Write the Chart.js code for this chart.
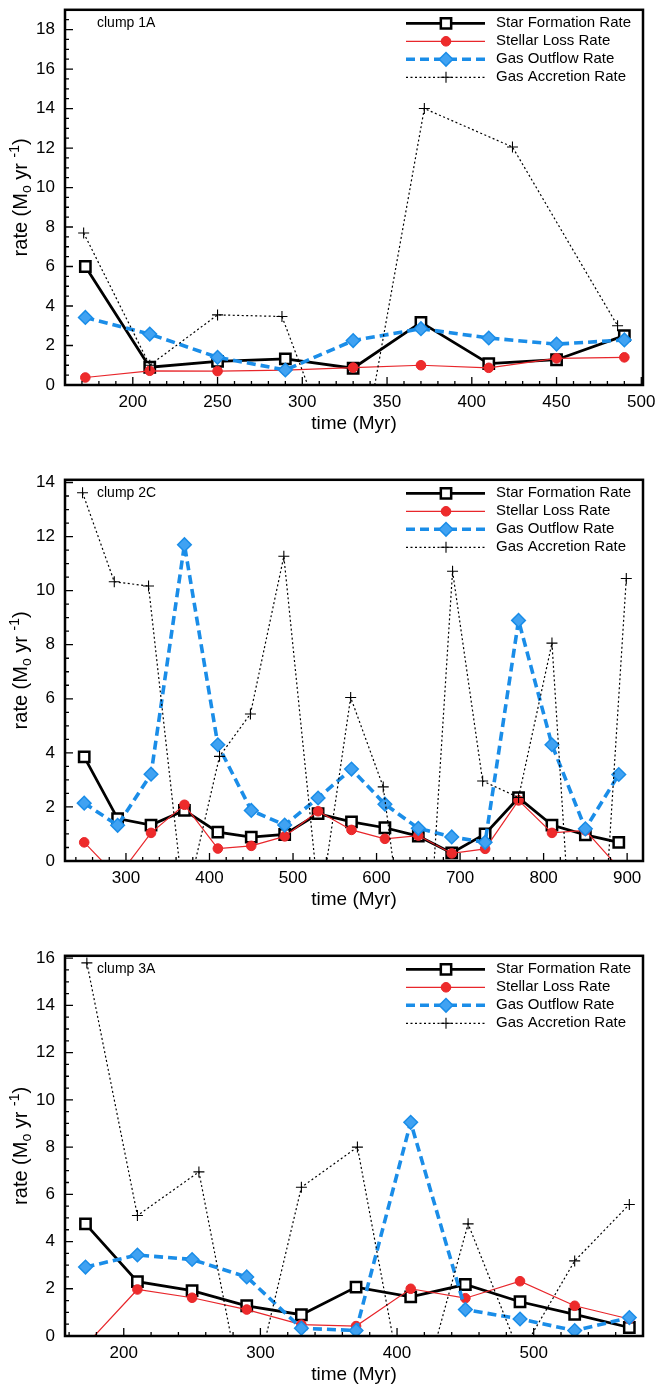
<!DOCTYPE html>
<html>
<head>
<meta charset="utf-8">
<script src="https://cdn.jsdelivr.net/npm/chart.js@4.4.1/dist/chart.umd.min.js"></script>
<style>
  html, body { margin: 0; padding: 0; background: #fff; }
  body { width: 655px; height: 1391px; position: relative; overflow: hidden; }
  canvas { position: absolute; left: 0; }
</style>
</head>
<body>
<canvas id="c1" width="655" height="437" style="top:0px;width:655px;height:437px"></canvas>
<canvas id="c2" width="655" height="443" style="top:470px;width:655px;height:443px"></canvas>
<canvas id="c3" width="655" height="442" style="top:946px;width:655px;height:442px"></canvas>
<script>
// ---------------- DATA ----------------
const seriesNames = ["Star Formation Rate", "Stellar Loss Rate", "Gas Outflow Rate", "Gas Accretion Rate"];
const clumpNames = ["clump 1A", "clump 2C", "clump 3A"];

// clump 1A
const clump1Time     = [172, 210, 250, 290, 330, 370, 410, 450, 490];
const clump1SFR      = [6.0, 0.9, 1.2, 1.32, 0.85, 3.17, 1.08, 1.28, 2.5];
const clump1Loss     = [0.38, 0.72, 0.7, 0.75, 0.88, 1.0, 0.87, 1.35, 1.4];
const clump1Outflow  = [3.42, 2.58, 1.4, 0.76, 2.25, 2.85, 2.38, 2.07, 2.28];
const clump1AccTime  = [171, 210, 250, 288, 330, 372, 424, 486];
const clump1Acc      = [7.7, 1.0, 3.55, 3.47, -6.1, 14.0, 12.05, 3.0];

// clump 2C
const clump2Time     = [250, 290, 330, 370, 410, 450, 490, 530, 570, 610, 650, 690, 730, 770, 810, 850, 890];
const clump2SFR      = [3.85, 1.57, 1.33, 1.87, 1.07, 0.88, 0.98, 1.75, 1.45, 1.23, 0.92, 0.3, 1.0, 2.34, 1.33, 0.97, 0.69];
const clump2Loss     = [0.69, -0.6, 1.04, 2.08, 0.46, 0.56, 0.91, 1.84, 1.15, 0.82, 0.94, 0.28, 0.45, 2.24, 1.04, 1.13, -0.25];
const clump2Outflow  = [2.14, 1.32, 3.21, 11.7, 4.3, 1.87, 1.33, 2.33, 3.4, 2.1, 1.21, 0.89, 0.69, 8.9, 4.3, 1.19, 3.2];
const clump2AccTime  = [248, 286, 327, 370, 412, 449, 489, 532, 569, 608, 653, 691, 727, 770, 810, 852, 899];
const clump2Acc      = [13.62, 10.33, 10.17, -1.75, 3.87, 5.44, 11.27, -1.8, 6.05, 2.74, -7.8, 10.72, 2.96, 2.35, 8.06, -12.4, 10.45];

// clump 3A
const clump3Time     = [172, 210, 250, 290, 330, 370, 410, 450, 490, 530, 570];
const clump3SFR      = [4.75, 2.3, 1.92, 1.28, 0.9, 2.07, 1.66, 2.18, 1.45, 0.92, 0.36];
const clump3Loss     = [-0.4, 1.97, 1.62, 1.12, 0.48, 0.42, 2.0, 1.6, 2.32, 1.28, 0.72];
const clump3Outflow  = [2.92, 3.43, 3.24, 2.5, 0.33, 0.23, 9.05, 1.12, 0.72, 0.23, 0.78];
const clump3AccTime  = [173, 210, 255, 290, 330, 371, 410, 452, 490, 530, 570];
const clump3Acc      = [15.8, 5.1, 6.95, -3.45, 6.3, 8.0, -4.1, 4.75, -0.8, 3.18, 5.57];

// tick labels
const xTicks1 = [200, 250, 300, 350, 400, 450, 500];
const xTicks2 = [300, 400, 500, 600, 700, 800, 900];
const xTicks3 = [200, 300, 400, 500];
const yTicks1 = [0, 2, 4, 6, 8, 10, 12, 14, 16, 18];
const yTicks2 = [0, 2, 4, 6, 8, 10, 12, 14];
const yTicks3 = [0, 2, 4, 6, 8, 10, 12, 14, 16];

// axis titles (y title pieces: normal, subscript, normal, superscript, normal)
const xTitle = "time (Myr)";
const yTitleParts = [["rate (M", 0], ["o", -1], [" yr ", 0], ["-1", 1], [")", 0]];

// axis ranges and minor tick steps
const xRanges = [[160, 501], [227, 919], [157, 580]];
const yRanges = [[0, 19], [0, 14.1], [0, 16.1]];
const xMinorSteps = [10, 20, 20];
const yMinorStep = 0.5;

// ---------------- STYLES ----------------
const FONT = '"Liberation Sans", Arial, Helvetica, sans-serif';
const styles = [
  { borderColor: '#000000', borderWidth: 2.8, pointStyle: 'rect', pointRadius: 7.3, pointBorderWidth: 2.5,
    pointBackgroundColor: '#ffffff', pointBorderColor: '#000000', order: 3 },
  { borderColor: '#e8262b', borderWidth: 1.2, pointStyle: 'circle', pointRadius: 4.8, pointBorderWidth: 1,
    pointBackgroundColor: '#ee2b2b', pointBorderColor: '#e8262b', order: 2 },
  { borderColor: '#1a8de8', borderWidth: 3.6, borderDash: [9, 5], pointStyle: 'rectRot', pointRadius: 6.8, pointBorderWidth: 1.5,
    pointBackgroundColor: '#40a2f2', pointBorderColor: '#1a8de8', order: 1 },
  { borderColor: '#000000', borderWidth: 1.2, borderDash: [2, 2.5], pointStyle: 'cross', pointRadius: 5.5, pointBorderWidth: 1.1,
    pointBackgroundColor: '#000000', pointBorderColor: '#000000', order: 0 }
];

function mk(i, xs, ys) {
  return Object.assign({
    label: seriesNames[i],
    data: xs.map((x, k) => ({ x: x, y: ys[k] })),
    tension: 0, fill: false, pointHoverRadius: 0
  }, styles[i]);
}

// ---------------- PLUGIN: frame, inward ticks, legend, labels ----------------
const decorPlugin = {
  id: 'decor',
  afterDatasetsDraw(chart, args, o) {
    const ctx = chart.ctx, a = chart.chartArea, xs = chart.scales.x, ys = chart.scales.y;
    const xMajor = xs.ticks.map(t => t.value);
    const yMajor = ys.ticks.map(t => t.value);
    const near = (arr, v) => arr.some(m => Math.abs(m - v) < 1e-6);
    ctx.save();
    ctx.strokeStyle = '#000';
    ctx.lineWidth = 1.3;
    ctx.setLineDash([]);
    ctx.beginPath();
    for (let k = Math.ceil(xs.min / o.xMinor); k * o.xMinor <= xs.max + 1e-9; k++) {
      const v = k * o.xMinor;
      const px = xs.getPixelForValue(v);
      const len = near(xMajor, v) ? 8 : 4;
      ctx.moveTo(px, a.bottom); ctx.lineTo(px, a.bottom - len);
    }
    for (let k = Math.ceil(ys.min / o.yMinor); k * o.yMinor <= ys.max + 1e-9; k++) {
      const v = k * o.yMinor;
      const py = ys.getPixelForValue(v);
      const len = near(yMajor, v) ? 8 : 4;
      ctx.moveTo(a.left, py); ctx.lineTo(a.left + len, py);
    }
    ctx.stroke();
    ctx.lineWidth = 2.5;
    ctx.strokeRect(a.left, a.top, a.right - a.left, a.bottom - a.top);

    // y-axis title with subscript / superscript
    ctx.save();
    ctx.translate(20, (a.top + a.bottom) / 2);
    ctx.rotate(-Math.PI / 2);
    ctx.fillStyle = '#000';
    ctx.textBaseline = 'alphabetic';
    ctx.textAlign = 'left';
    const big = '20px ' + FONT, small = '14px ' + FONT;
    let total = 0;
    yTitleParts.forEach(([t, s]) => { ctx.font = s ? small : big; total += ctx.measureText(t).width; });
    let cx = -total / 2;
    yTitleParts.forEach(([t, s]) => {
      ctx.font = s ? small : big;
      const dy = s === -1 ? 4 : (s === 1 ? -8 : 0);
      ctx.fillText(t, cx, 7 + dy);
      cx += ctx.measureText(t).width;
    });
    ctx.restore();

    // clump label
    ctx.fillStyle = '#000';
    ctx.font = '14px ' + FONT;
    ctx.textBaseline = 'middle';
    ctx.textAlign = 'left';
    ctx.fillText(o.label, 97, a.top + 13.5);

    // legend
    seriesNames.forEach((name, row) => {
      const ds = chart.data.datasets.find(d => d.label === name);
      const yy = a.top + 13.5 + row * 18;
      ctx.save();
      ctx.strokeStyle = ds.borderColor;
      ctx.lineWidth = ds.borderWidth;
      ctx.setLineDash(ds.borderDash || []);
      ctx.beginPath(); ctx.moveTo(406, yy); ctx.lineTo(485, yy); ctx.stroke();
      ctx.setLineDash([]);
      ctx.fillStyle = ds.pointBackgroundColor;
      ctx.strokeStyle = ds.pointBorderColor;
      ctx.lineWidth = ds.pointBorderWidth;
      Chart.helpers.drawPoint(ctx, { pointStyle: ds.pointStyle, radius: ds.pointRadius, borderWidth: ds.pointBorderWidth, rotation: 0 }, 446, yy);
      ctx.fillStyle = '#000';
      ctx.font = '15px ' + FONT;
      ctx.textBaseline = 'middle';
      ctx.textAlign = 'left';
      ctx.fillText(ds.label, 496, yy);
      ctx.restore();
    });
    ctx.restore();
  }
};

function makeChart(id, idx, datasets, padTop, xTicks, yTicks) {
  const c = document.getElementById(id);
  return new Chart(c.getContext('2d'), {
    type: 'line',
    data: { datasets: datasets },
    plugins: [decorPlugin],
    options: {
      responsive: false,
      devicePixelRatio: 1,
      animation: false,
      events: [],
      layout: { padding: { top: padTop, right: 12, left: 0, bottom: 0 } },
      plugins: {
        legend: { display: false },
        tooltip: { enabled: false },
        decor: { label: clumpNames[idx], xMinor: xMinorSteps[idx], yMinor: yMinorStep }
      },
      scales: {
        x: {
          type: 'linear', min: xRanges[idx][0], max: xRanges[idx][1],
          grid: { display: false, drawTicks: false },
          border: { display: false },
          ticks: { padding: 7, maxRotation: 0, autoSkip: false,
                   color: '#000', font: { size: 17, family: FONT } },
          afterBuildTicks(s) { s.ticks = xTicks.map(v => ({ value: v })); },
          title: { display: true, text: xTitle, color: '#000', font: { size: 19, family: FONT }, padding: { top: 0, bottom: 2 } },
          afterFit(s) { s.height = 52; s.paddingLeft = 0; s.paddingRight = 0; }
        },
        y: {
          type: 'linear', min: yRanges[idx][0], max: yRanges[idx][1],
          grid: { display: false, drawTicks: false },
          border: { display: false },
          ticks: { padding: 10, autoSkip: false,
                   color: '#000', font: { size: 17, family: FONT } },
          afterBuildTicks(s) { s.ticks = yTicks.map(v => ({ value: v })); },
          title: { display: false },
          afterFit(s) { s.width = 65; s.paddingTop = 0; s.paddingBottom = 0; }
        }
      }
    }
  });
}

makeChart('c1', 0, [
  mk(0, clump1Time, clump1SFR),
  mk(1, clump1Time, clump1Loss),
  mk(2, clump1Time, clump1Outflow),
  mk(3, clump1AccTime, clump1Acc)
], 4, xTicks1, yTicks1);
makeChart('c2', 1, [
  mk(0, clump2Time, clump2SFR),
  mk(1, clump2Time, clump2Loss),
  mk(2, clump2Time, clump2Outflow),
  mk(3, clump2AccTime, clump2Acc)
], 7, xTicks2, yTicks2);
makeChart('c3', 2, [
  mk(0, clump3Time, clump3SFR),
  mk(1, clump3Time, clump3Loss),
  mk(2, clump3Time, clump3Outflow),
  mk(3, clump3AccTime, clump3Acc)
], 6, xTicks3, yTicks3);
</script>
</body>
</html>
